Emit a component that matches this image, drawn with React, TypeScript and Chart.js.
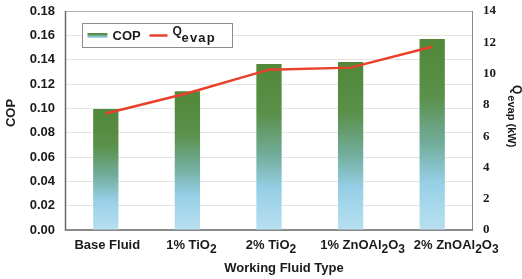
import React, { useEffect, useRef } from "react";
import { Chart, registerables } from "chart.js";

Chart.register(...registerables);

// ---- data ----
const categories = ["Base Fluid", "1% TiO_2", "2% TiO_2", "1% ZnOAl_2O_3", "2% ZnOAl_2O_3"];
const copValues = [0.0995, 0.114, 0.1365, 0.138, 0.157];
const qEvapValues = [7.45, 8.74, 10.25, 10.38, 11.72];
const copAxis = { min: 0, max: 0.18, step: 0.02 };
const qAxis = { min: 0, max: 14, step: 2 };
const xTitle = "Working Fluid Type";
const leftTitle = "COP";
const rightTitleMain = "Q";
const rightTitleSub = "evap (kW)";
const legendCop = "COP";
const legendQ = "Q";
const legendQSub = "evap";

// ---- styles ----
const SANS = '"Liberation Sans", Arial, sans-serif';
const SERIF = '"Liberation Serif", "Times New Roman", serif';
const TEXT = "#1a1a1a";
const LINE_COLOR = "#e8402a";
const labelOffsets = [1.5, 4, 2, 12, 24];
const AREA = { top: 11, bottom: 230, left: 65, right: 473 };

function parseRich(label: string) {
  const segs: { t: string; sub: boolean }[] = [];
  let i = 0;
  let cur = "";
  while (i < label.length) {
    if (label[i] === "_" && i + 1 < label.length) {
      if (cur) segs.push({ t: cur, sub: false });
      cur = "";
      segs.push({ t: label[i + 1], sub: true });
      i += 2;
    } else {
      cur += label[i];
      i++;
    }
  }
  if (cur) segs.push({ t: cur, sub: false });
  return segs;
}

function barGradient(ctx: CanvasRenderingContext2D, top: number, bottom: number) {
  const g = ctx.createLinearGradient(0, top, 0, bottom);
  g.addColorStop(0, "#528839");
  g.addColorStop(0.3, "#5a9049");
  g.addColorStop(0.55, "#72ad9c");
  g.addColorStop(0.75, "#96cfe6");
  g.addColorStop(1, "#b8e0f1");
  return g;
}

const areaPlugin = {
  id: "fixArea",
  afterLayout(chart: any) {
    // keep the plot area where the reference has it
    const a = chart.chartArea;
    if (a.top !== AREA.top) {
      const ys = chart.scales.y;
      const y1 = chart.scales.y1;
      [ys, y1].forEach((s: any) => {
        s.top = AREA.top;
        s.height = s.bottom - AREA.top;
        s.configure && s.configure();
      });
      a.top = AREA.top;
      a.height = a.bottom - a.top;
    }
  },
};

const decorPlugin = {
  id: "decor",
  beforeDatasetsDraw(chart: any) {
    const { ctx, chartArea: a } = chart;
    ctx.save();
    ctx.lineWidth = 1;
    ctx.strokeStyle = "#b0b0b0";
    ctx.beginPath();
    ctx.moveTo(a.left, a.top + 0.5);
    ctx.lineTo(a.right, a.top + 0.5);
    ctx.stroke();
    ctx.strokeStyle = "#8a8a8a";
    ctx.beginPath();
    ctx.moveTo(a.right - 0.5, a.top);
    ctx.lineTo(a.right - 0.5, a.bottom);
    ctx.stroke();
    ctx.strokeStyle = "#6a6a6a";
    ctx.lineWidth = 1.5;
    ctx.beginPath();
    ctx.moveTo(a.left + 0.5, a.top);
    ctx.lineTo(a.left + 0.5, a.bottom);
    ctx.lineTo(a.right, a.bottom);
    ctx.stroke();
    ctx.restore();
  },
  afterDraw(chart: any) {
    const { ctx, chartArea: a } = chart;
    const xs = chart.scales.x;
    ctx.save();
    ctx.fillStyle = TEXT;
    ctx.textBaseline = "middle";

    // x tick labels with subscripts
    categories.forEach((lab, i) => {
      const segs = parseRich(lab);
      const mainFont = `bold 13px ${SANS}`;
      const subFont = `bold 12px ${SANS}`;
      let w = 0;
      segs.forEach((s) => {
        ctx.font = s.sub ? subFont : mainFont;
        w += ctx.measureText(s.t).width;
      });
      let x = xs.getPixelForTick(i) + labelOffsets[i] - w / 2;
      const y = a.bottom + 15;
      ctx.textAlign = "left";
      segs.forEach((s) => {
        ctx.font = s.sub ? subFont : mainFont;
        ctx.fillText(s.t, x, s.sub ? y + 5 : y);
        x += ctx.measureText(s.t).width;
      });
    });

    // x title
    ctx.font = `bold 13px ${SANS}`;
    ctx.textAlign = "center";
    ctx.fillText(xTitle, (a.left + a.right) / 2 + 15, a.bottom + 38);

    // left title
    ctx.save();
    ctx.translate(11, 113);
    ctx.rotate(-Math.PI / 2);
    ctx.font = `bold 13px ${SANS}`;
    ctx.textAlign = "center";
    ctx.fillText(leftTitle, 0, 0);
    ctx.restore();

    // right title
    ctx.save();
    ctx.translate(516, 85);
    ctx.rotate(Math.PI / 2);
    ctx.textAlign = "left";
    ctx.font = `bold 12px ${SANS}`;
    ctx.fillText(rightTitleMain, 0, 0);
    const qw = ctx.measureText(rightTitleMain).width;
    ctx.font = `bold 11px ${SANS}`;
    ctx.fillText(rightTitleSub, qw + 1, 5);
    ctx.restore();

    // legend
    const lx = 82.5, ly = 23.5, lw = 150, lh = 24;
    ctx.fillStyle = "#ffffff";
    ctx.fillRect(lx, ly, lw, lh);
    ctx.strokeStyle = "#8c8c8c";
    ctx.lineWidth = 1;
    ctx.strokeRect(lx, ly, lw, lh);
    const cy = ly + lh / 2;
    ctx.fillStyle = barGradient(ctx, cy - 3, cy + 3);
    ctx.fillRect(lx + 5, cy - 2.5, 20, 5);
    ctx.fillStyle = TEXT;
    ctx.font = `bold 13px ${SANS}`;
    ctx.textAlign = "left";
    ctx.fillText(legendCop, lx + 30, cy + 0.5);
    ctx.strokeStyle = LINE_COLOR;
    ctx.lineWidth = 2.5;
    ctx.beginPath();
    ctx.moveTo(lx + 67, cy);
    ctx.lineTo(lx + 85, cy);
    ctx.stroke();
    ctx.fillStyle = TEXT;
    ctx.font = `bold 12px ${SANS}`;
    ctx.fillText(legendQ, lx + 90, cy - 4);
    ctx.font = `bold 13px ${SANS}`;
    (ctx as any).letterSpacing = "1.2px";
    ctx.fillText(legendQSub, lx + 99, cy + 3);
    (ctx as any).letterSpacing = "0px";
    ctx.restore();
  },
};

export default function App() {
  const ref = useRef<HTMLCanvasElement | null>(null);
  useEffect(() => {
    document.body.style.margin = "0";
    const canvas = ref.current!;
    const chart = new Chart(canvas, {
      type: "bar",
      data: {
        labels: categories.map((c) => c.replace(/_/g, "")),
        datasets: [
          {
            type: "line",
            label: "Q evap",
            data: qEvapValues,
            yAxisID: "y1",
            borderColor: LINE_COLOR,
            borderWidth: 2.5,
            pointRadius: 0,
            tension: 0,
            order: 0,
          } as any,
          {
            type: "bar",
            label: "COP",
            data: copValues,
            yAxisID: "y",
            barPercentage: 0.31,
            categoryPercentage: 1,
            order: 1,
            backgroundColor: (c: any) => {
              const ch = c.chart;
              const ys = ch.scales.y;
              if (!ch.chartArea || !ys || c.raw == null) return "#5a9049";
              const top = ys.getPixelForValue(c.raw);
              const bottom = ys.getPixelForValue(0);
              return barGradient(ch.ctx, top, bottom);
            },
          },
        ],
      },
      options: {
        animation: false,
        responsive: false,
        layout: { padding: { top: 11, left: 0, right: 0, bottom: 0 } },
        plugins: { legend: { display: false }, tooltip: { enabled: false } },
        scales: {
          x: {
            type: "category",
            offset: true,
            grid: { display: false },
            border: { display: false },
            ticks: { display: false },
            afterFit: (s: any) => {
              s.height = 49;
            },
          },
          y: {
            position: "left",
            min: copAxis.min,
            max: copAxis.max,
            border: { display: false },
            grid: { color: "#e4e4e4", drawTicks: false, lineWidth: 1 },
            ticks: {
              stepSize: copAxis.step,
              padding: 10,
              color: TEXT,
              font: { family: SANS, size: 13, weight: "bold" },
              callback: (v: any) => Number(v).toFixed(2),
            },
            afterFit: (s: any) => {
              s.width = 65;
            },
          },
          y1: {
            position: "right",
            min: qAxis.min,
            max: qAxis.max,
            border: { display: false },
            grid: { display: false, drawTicks: false },
            ticks: {
              stepSize: qAxis.step,
              padding: 10,
              color: TEXT,
              font: { family: SERIF, size: 13, weight: "bold" },
            },
            afterFit: (s: any) => {
              s.width = 49;
            },
          },
        },
      } as any,
      plugins: [areaPlugin, decorPlugin],
    });
    return () => chart.destroy();
  }, []);
  return (
    <div style={{ width: 522, height: 279 }}>
      <canvas ref={ref} width={522} height={279} style={{ display: "block" }} />
    </div>
  );
}
